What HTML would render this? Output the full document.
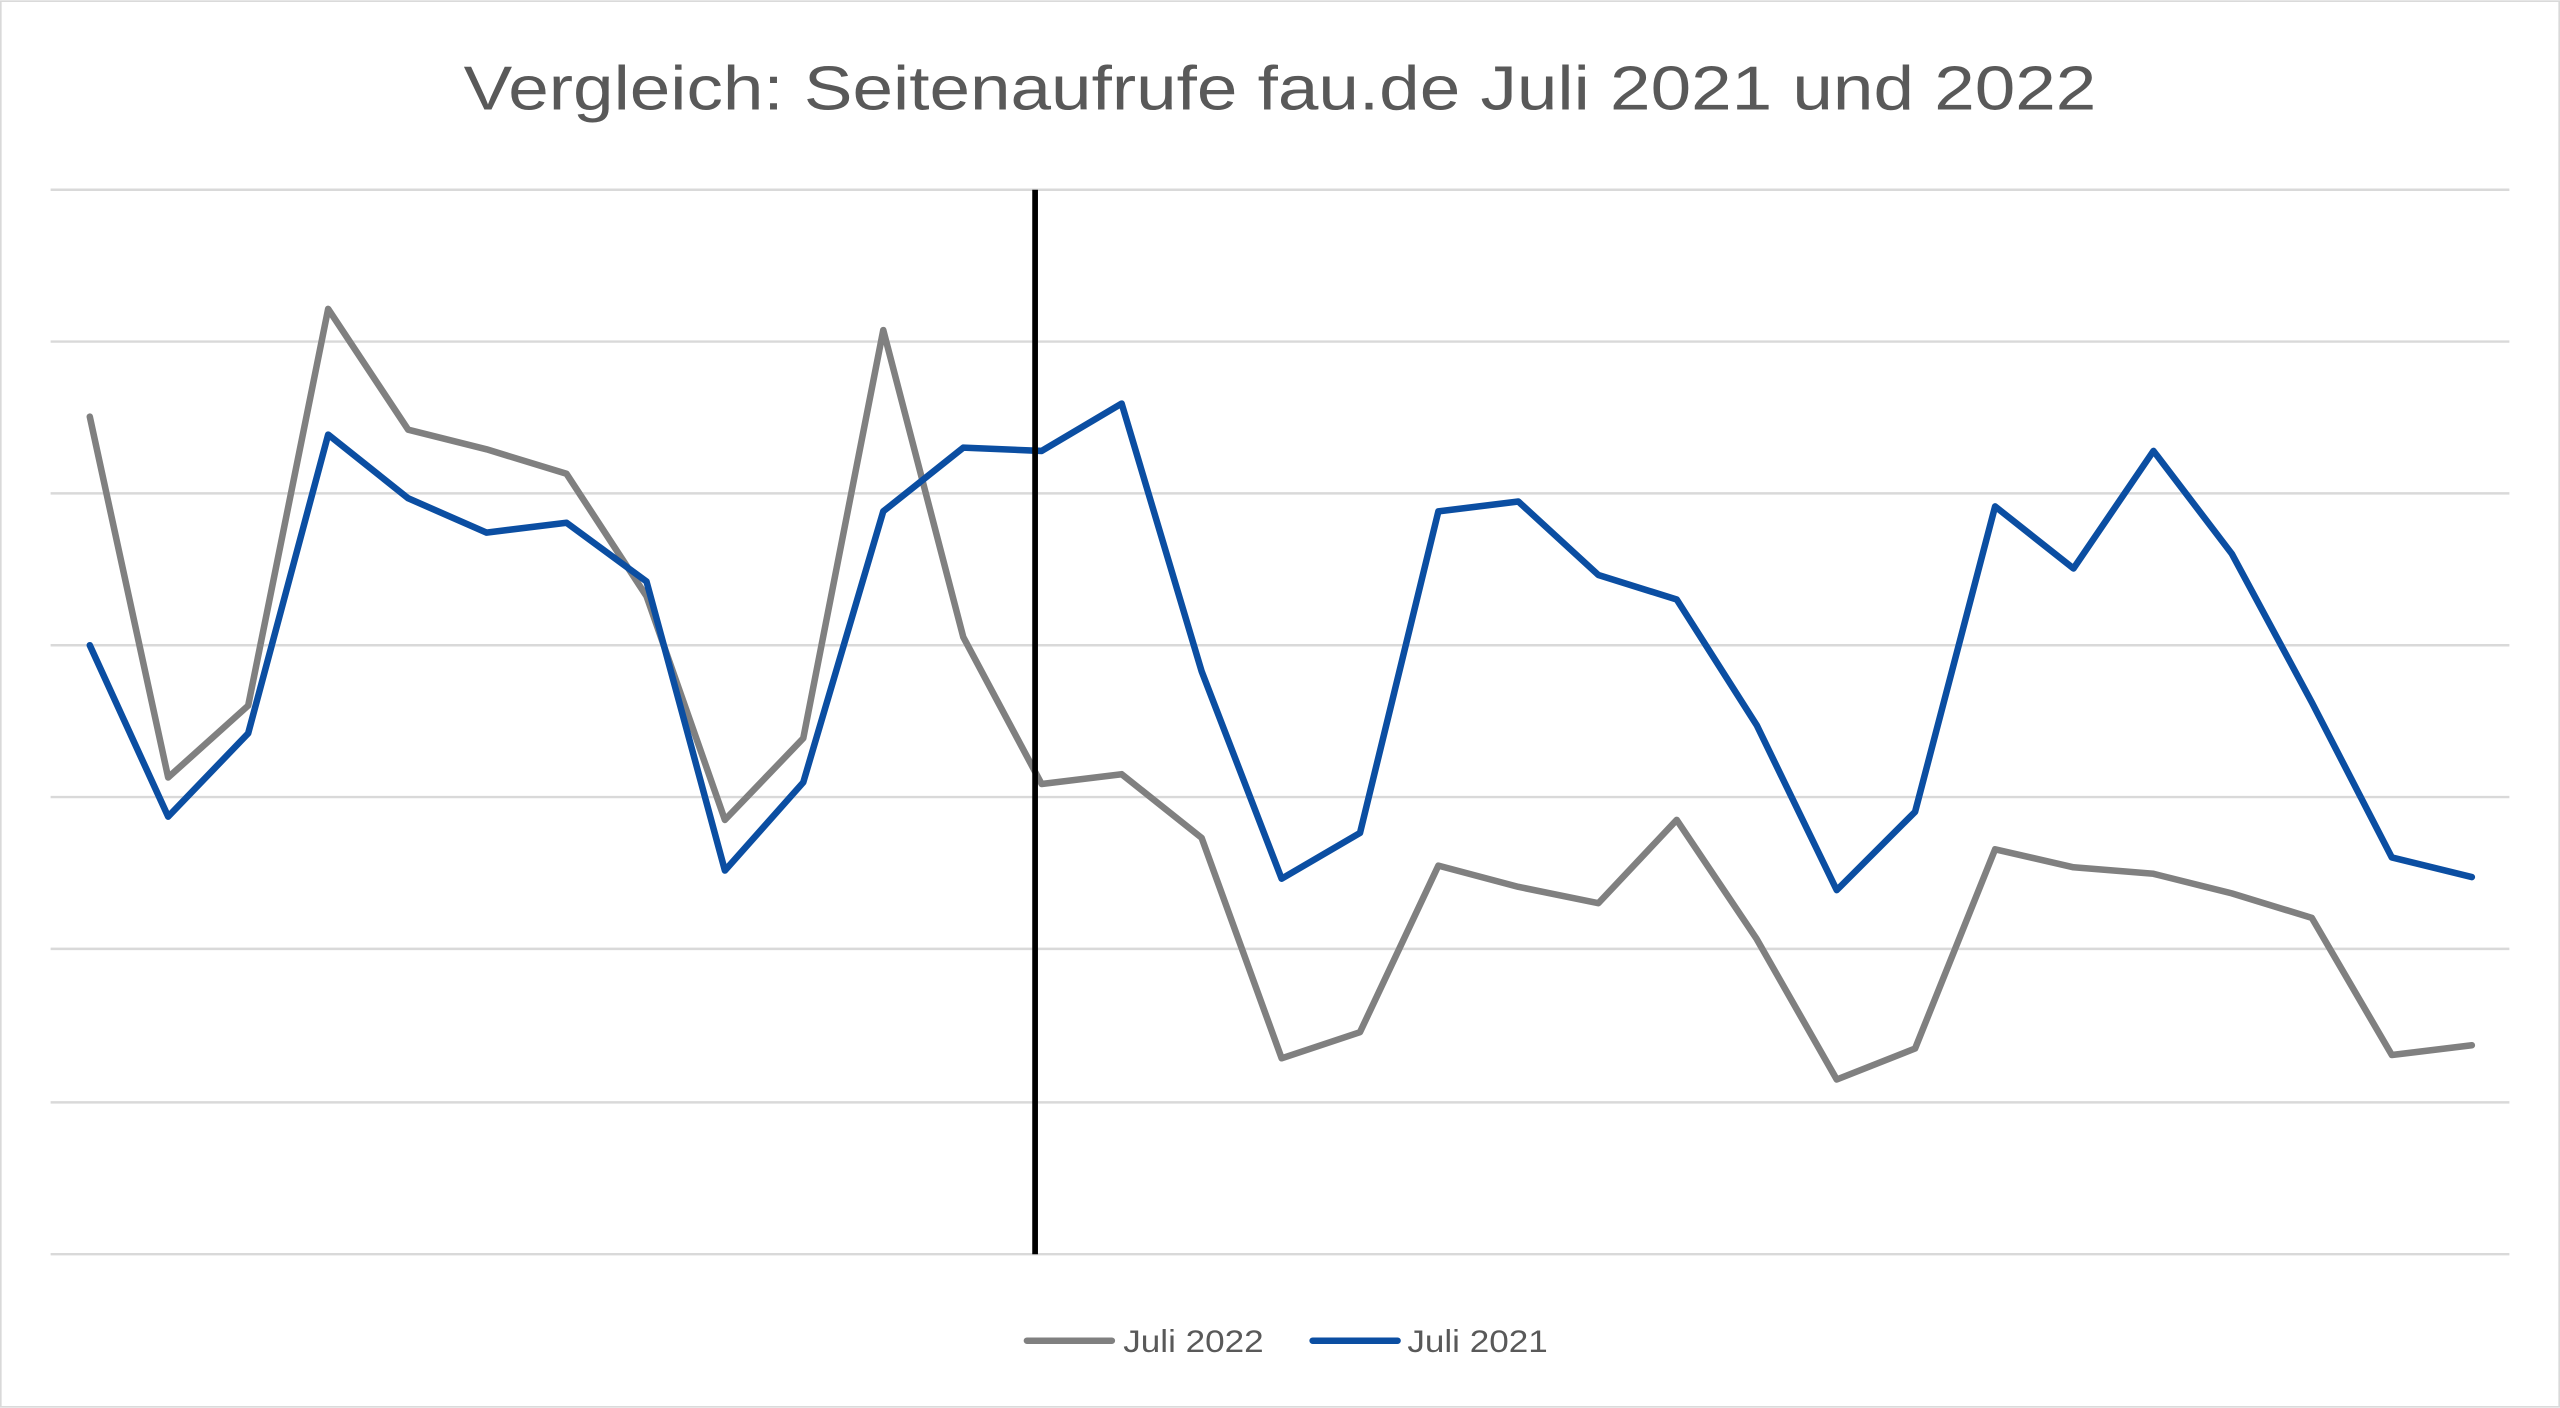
<!DOCTYPE html>
<html><head><meta charset="utf-8"><style>html,body{margin:0;padding:0;background:#fff}svg{display:block}</style></head>
<body>
<svg width="2560" height="1408" viewBox="0 0 1568 862" xmlns="http://www.w3.org/2000/svg">
<rect x="0.5" y="0.5" width="1567" height="861" fill="#fff" stroke="#d9d9d9" stroke-width="1"/>
<text x="784" y="67" text-anchor="middle" font-family="Liberation Sans, sans-serif" font-size="38" fill="#595959" textLength="1000" lengthAdjust="spacingAndGlyphs">Vergleich: Seitenaufrufe fau.de Juli 2021 und 2022</text>
<g stroke="#d9d9d9" stroke-width="1.5">
<line x1="31" x2="1537" y1="116" y2="116"/><line x1="31" x2="1537" y1="209" y2="209"/>
<line x1="31" x2="1537" y1="302" y2="302"/><line x1="31" x2="1537" y1="395" y2="395"/>
<line x1="31" x2="1537" y1="488" y2="488"/><line x1="31" x2="1537" y1="581" y2="581"/>
<line x1="31" x2="1537" y1="675" y2="675"/><line x1="31" x2="1537" y1="768" y2="768"/>
</g>
<polyline fill="none" stroke="#808080" stroke-width="4" stroke-linejoin="round" stroke-linecap="round" points="55,255 103,476 152,432 201,189 250,263 298,275 347,290 396,365 444,502 492,452 541,202 590,390 638,480 687,474 736,513 785,648 833,632 881,530 930,543 979,553 1027,502 1076,575 1125,661 1173,642 1222,520 1270,531 1319,535 1367,547 1416,562 1465,646 1514,640"/>
<polyline fill="none" stroke="#0b4ea2" stroke-width="4" stroke-linejoin="round" stroke-linecap="round" points="55,395 103,500 152,449 201,266 250,305 298,326 347,320 396,356 444,533 492,479 541,313 590,274 638,276 687,247 736,411 785,538 833,510 881,313 930,307 979,352 1027,367 1076,444 1125,545 1173,497 1222,310 1270,348 1319,276 1367,339 1416,430 1465,525 1514,537"/>
<line x1="634" y1="116" x2="634" y2="768" stroke="#000" stroke-width="3.5"/>
<line x1="629" y1="821" x2="681" y2="821" stroke="#808080" stroke-width="4" stroke-linecap="round"/>
<text x="688" y="828" font-family="Liberation Sans, sans-serif" font-size="19" fill="#595959" textLength="86" lengthAdjust="spacingAndGlyphs">Juli 2022</text>
<line x1="804" y1="821" x2="856" y2="821" stroke="#0b4ea2" stroke-width="4" stroke-linecap="round"/>
<text x="862" y="828" font-family="Liberation Sans, sans-serif" font-size="19" fill="#595959" textLength="86" lengthAdjust="spacingAndGlyphs">Juli 2021</text>
</svg>
</body></html>
